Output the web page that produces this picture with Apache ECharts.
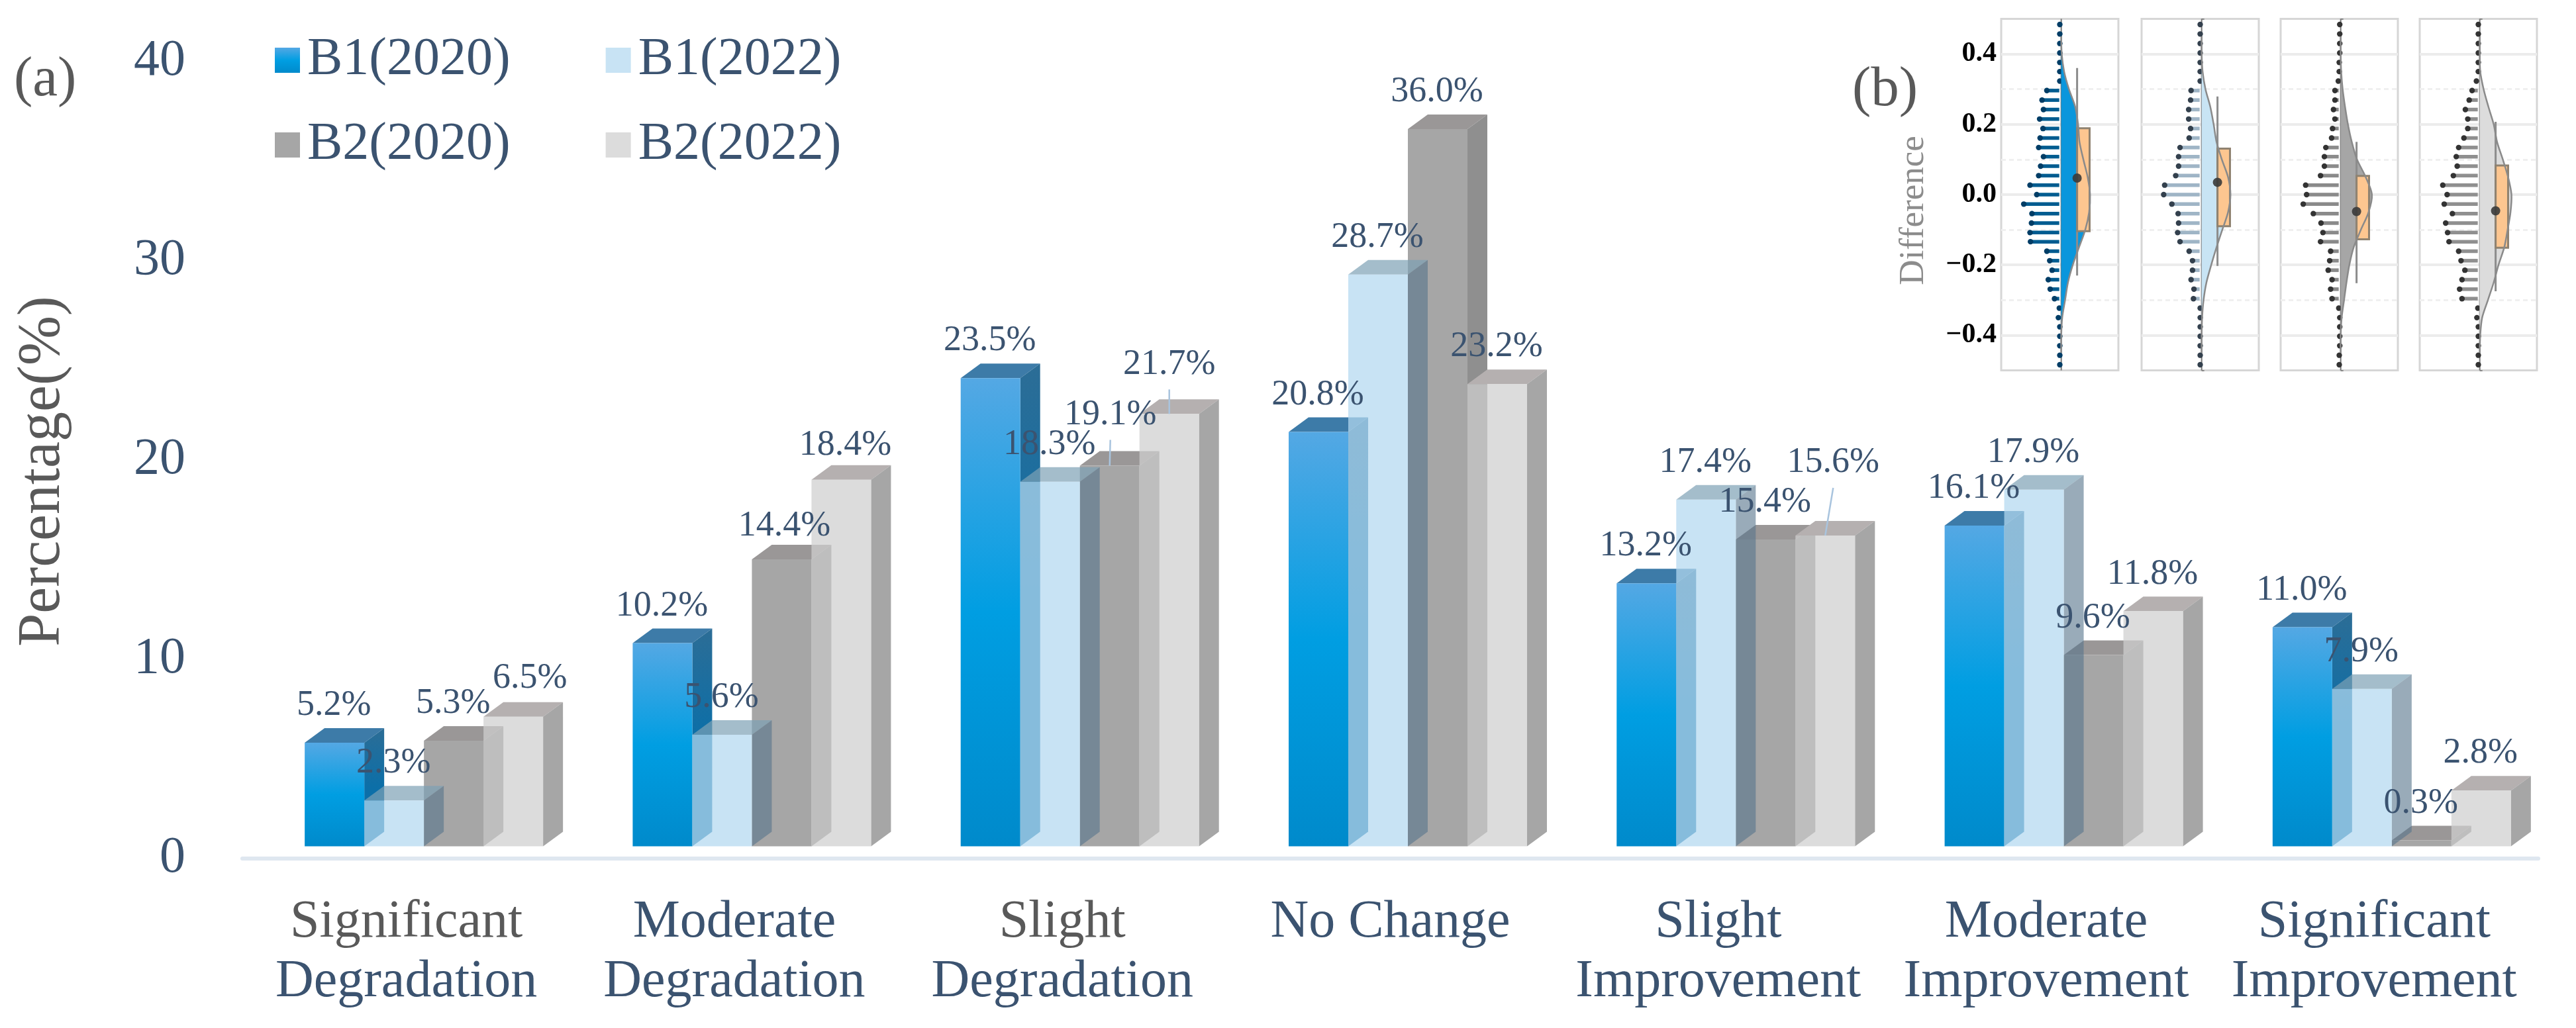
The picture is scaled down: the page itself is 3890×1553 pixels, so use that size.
<!DOCTYPE html>
<html>
<head>
<meta charset="utf-8">
<style>html,body{margin:0;padding:0;background:#fff}#c{width:3890px;height:1553px}</style>
<script src="https://cdn.jsdelivr.net/npm/echarts@6/dist/echarts.min.js"></script>
</head>
<body>
<div id="c"></div>
<script>
// ---------- Data: panel (a) ----------
const categories = ['Significant\nDegradation','Moderate\nDegradation','Slight\nDegradation','No Change','Slight\nImprovement','Moderate\nImprovement','Significant\nImprovement'];
const b1_2020 = [5.2,10.2,23.5,20.8,13.2,16.1,11.0];
const b1_2022 = [2.3,5.6,18.3,28.7,17.4,17.9,7.9];
const b2_2020 = [5.3,14.4,19.1,36.0,15.4,9.6,0.3];
const b2_2022 = [6.5,18.4,21.7,23.2,15.6,11.8,2.8];
const yTicks = [0,10,20,30,40];

// ---------- Data: panel (b) ----------
const panelNames = ['B1(2020)','B1(2022)','B2(2020)','B2(2022)'];
const binCenters = [0.484,0.457,0.430,0.403,0.376,0.350,0.323,0.296,0.269,0.242,0.215,0.188,0.161,0.134,0.108,0.081,0.054,0.027,0,-0.027,-0.054,-0.081,-0.108,-0.134,-0.161,-0.188,-0.215,-0.242,-0.269,-0.296,-0.323,-0.350,-0.376,-0.403,-0.430,-0.457,-0.484];
const histB1_2020 = [3,3,3,3,3,3,3,30,40,37,45,38,44,47,37,43,47,65,51,78,61,62,65,64,30,24,19,27,23,14,4,6,3,3,3,3,3];
const histB1_2022 = [3,3,3,3,3,3,3,22,23,27,27,23,26,45,48,48,54,77,79,62,49,48,50,45,26,19,19,22,16,17,3,3,3,3,3,3,3];
const histB2_2020 = [2,2,2,2,3,3,5,12,12,15,12,17,19,31,34,34,42,73,71,78,57,41,37,42,21,23,26,18,21,18,4,2,2,2,2,3,3];
const histB2_2022 = [3,3,3,3,3,3,7,16,22,30,25,25,33,44,49,47,55,77,68,74,57,71,67,64,44,39,31,37,42,37,4,6,3,3,3,3,3];
const violinLevels = [0.45,0.4,0.35,0.3,0.25,0.2,0.15,0.1,0.05,0,-0.05,-0.1,-0.15,-0.2,-0.25,-0.3,-0.35,-0.4,-0.45];
const violinB1_2020 = [0,1,6,16,29,35,38,46,55,60,58,50,37,24,14,8,2,0,0];
const violinB1_2022 = [0,0,2,8,18,25,31,42,55,60,55,43,31,20,10,4,1,0,0];
const violinB2_2020 = [0,0,1,4,9,15,23,34,52,65,58,42,27,18,12,7,2,0,0];
const violinB2_2022 = [0,0,1,8,18,29,36,48,59,66,64,58,51,39,29,17,5,1,0];
const boxQ3 = [0.189,0.131,0.053,0.083];
const boxQ1 = [-0.104,-0.090,-0.127,-0.151];
const whiskerHigh = [0.360,0.279,0.150,0.207];
const whiskerLow = [-0.230,-0.203,-0.252,-0.275];
const means = [0.047,0.035,-0.048,-0.046];

// ---------- Style and layout ----------
const SERIF = '"Liberation Serif","Times New Roman",serif';
const NAVY = '#3b5370', GRAY = '#595959';
const BAR_W = 90, DEPTH_X = 30, DEPTH_Y = 22, FLOOR_X = 26.5, FLOOR_Y = 18.5;
const grad = (stops) => new echarts.graphic.LinearGradient(0,0,0,1,stops.map((c,i)=>({offset:c[0],color:c[1]})));
const bar3d = [
  {name:'B1(2020)', vals:b1_2020, slot:0, front:grad([[0,'#54a8e4'],[0.5,'#009ee2'],[1,'#008acb']]), top:'#3d7ba8', side:grad([[0,'#2c6d96'],[0.5,'#0c6fa8'],[1,'#0c6fa8']]), frontOp:1, topOp:1, sideOp:1},
  {name:'B2(2020)', vals:b2_2020, slot:2, front:'#a6a6a6', top:'#9a9797', side:'#8f8f8f', frontOp:1, topOp:1, sideOp:1},
  {name:'B1(2022)', vals:b1_2022, slot:1, front:'#b4d9f0', top:'#7da1b5', side:'#58758c', frontOp:0.73, topOp:0.7, sideOp:0.61},
  {name:'B2(2022)', vals:b2_2022, slot:3, front:'#cfcfcf', top:'#b5b0b0', side:'#a6a6a6', frontOp:0.73, topOp:1, sideOp:1}
];
// Label nudges for the hand-placed labels: "group-slot": [dx, dy from the bar's front top centre]
const labelNudge = {'0-3':[25,-58],'1-2':[4,-50],'1-3':[6,-52],'2-2':[1,-77],'2-3':[0,-75],'4-3':[12,-110]};
const panelStyle = [
  {left:3022, fill:'#0a96dc', stem:'#005c90', dot:'#003d66', hist:histB1_2020, violin:violinB1_2020},
  {left:3234, fill:'#c8e4f4', stem:'#9fb5c6', dot:'#33404d', hist:histB1_2022, violin:violinB1_2022},
  {left:3444, fill:'#a6a6a6', stem:'#8a8a8a', dot:'#333333', hist:histB2_2020, violin:violinB2_2020},
  {left:3654, fill:'#dcdcdc', stem:'#8f8f8f', dot:'#333333', hist:histB2_2022, violin:violinB2_2022}
];
const BOX_L = 33, BOX_R = 59;

// ---------- Series builders ----------
function barSeries(b){
  return {
    type:'custom', name:b.name, xAxisIndex:0, yAxisIndex:0, silent:true,
    itemStyle:{color:b.front},
    data:b.vals.map((v,i)=>[i,v]),
    renderItem(params, api){
      const c = api.coord([api.value(0), 0]);
      const t = api.coord([api.value(0), api.value(1)]);
      const x0 = c[0] + FLOOR_X + (b.slot-2)*BAR_W, x1 = x0 + BAR_W;
      const yb = c[1] - FLOOR_Y, yt = t[1] - FLOOR_Y;
      return {type:'group', children:[
        {type:'polygon', shape:{points:[[x0,yt],[x1,yt],[x1+DEPTH_X,yt-DEPTH_Y],[x0+DEPTH_X,yt-DEPTH_Y]]}, style:{fill:b.top, opacity:b.topOp}},
        {type:'polygon', shape:{points:[[x1,yt],[x1+DEPTH_X,yt-DEPTH_Y],[x1+DEPTH_X,yb-DEPTH_Y],[x1,yb]]}, style:{fill:b.side, opacity:b.sideOp}},
        {type:'rect', shape:{x:x0,y:yt,width:BAR_W,height:yb-yt}, style:{fill:b.front, opacity:b.frontOp}}
      ]};
    }
  };
}
const labelRows = [];
bar3d.slice().sort((a,b)=>a.slot-b.slot).forEach(b=>b.vals.forEach((v,i)=>labelRows.push([i,v,b.slot])));
const labelSeries = {
  type:'custom', xAxisIndex:0, yAxisIndex:0, silent:true, z:10, data:labelRows,
  renderItem(params, api){
    const g = api.value(0), v = api.value(1), s = api.value(2);
    const c = api.coord([g, v]);
    const n = labelNudge[g+'-'+s] || [-1,-56];
    const cx = c[0] + FLOOR_X + (s-2)*BAR_W + BAR_W/2, top = c[1] - FLOOR_Y;
    const x = cx + n[0], y = top + n[1];
    const kids = [];
    if (n[1] < -70) kids.push({type:'line', shape:{x1:x,y1:y+38,x2:cx,y2:top}, style:{stroke:'#a9c4de', lineWidth:2.5}});
    kids.push({type:'text', style:{text:v.toFixed(1)+'%', x:x, y:y, textAlign:'center', textVerticalAlign:'middle', fontSize:54, fontFamily:SERIF, fill:NAVY}});
    return {type:'group', children:kids};
  }
};

function panelSeries(p, idx){
  const ax = {xAxisIndex:idx+1, yAxisIndex:idx+1, silent:true};
  const out = [];
  // baseline and major grid lines
  out.push({type:'line', ...ax, data:[[0,-0.5],[0,0.5]], symbol:'none', lineStyle:{color:'#777',width:2}, z:3,
    markLine:{silent:true, symbol:'none', label:{show:false}, lineStyle:{color:'#ececec',width:4,type:'solid'}, data:[-0.4,-0.2,0,0.2,0.4].map(v=>({yAxis:v})), z:1}});
  // stems
  out.push({type:'custom', ...ax, z:4, data:p.hist.map((h,i)=>[h,binCenters[i]]),
    renderItem(params, api){
      const a = api.coord([0, api.value(1)]), b = api.coord([-api.value(0), api.value(1)]);
      return {type:'group', children:[
        {type:'line', shape:{x1:a[0]-3,y1:a[1],x2:b[0],y2:b[1]}, style:{stroke:p.stem,lineWidth:5.5}},
        {type:'circle', shape:{cx:b[0],cy:b[1],r:4.2}, style:{fill:p.dot}}
      ]};
    }});
  const pts = p.violin.map((w,i)=>[w,violinLevels[i]]);
  // violin fill
  out.push({type:'custom', ...ax, z:5, data:pts,
    renderItem(params, api){
      if (params.dataIndex !== 0) return null;
      const poly = pts.map(q=>api.coord(q));
      return {type:'polygon', shape:{points:poly, smooth:0.3}, style:{fill:p.fill}};
    }});
  // whisker, box
  out.push({type:'custom', ...ax, z:6, data:[[idx]],
    renderItem(params, api){
      const i = api.value(0);
      const hi = api.coord([BOX_L, whiskerHigh[i]]), lo = api.coord([BOX_L, whiskerLow[i]]);
      const q3 = api.coord([BOX_L, boxQ3[i]]), q1 = api.coord([BOX_R, boxQ1[i]]);
      return {type:'group', children:[
        {type:'line', shape:{x1:hi[0],y1:hi[1],x2:lo[0],y2:lo[1]}, style:{stroke:'#8c8c8c',lineWidth:3}},
        {type:'rect', shape:{x:q3[0],y:q3[1],width:q1[0]-q3[0],height:q1[1]-q3[1]}, style:{fill:'#fdc690',stroke:'#8f8270',lineWidth:3}}
      ]};
    }});
  // violin outline over the box
  out.push({type:'custom', ...ax, z:7, data:pts,
    renderItem(params, api){
      if (params.dataIndex !== 0) return null;
      return {type:'polyline', shape:{points:pts.map(q=>api.coord(q)), smooth:0.3}, style:{stroke:'#8a8a8a',lineWidth:2.5,fill:null}};
    }});
  // mean dot
  out.push({type:'custom', ...ax, z:8, data:[[BOX_L,means[idx]]],
    renderItem(params, api){
      const m = api.coord([api.value(0), api.value(1)]);
      return {type:'circle', shape:{cx:m[0],cy:m[1],r:7}, style:{fill:'#3a3a3a',opacity:0.9}};
    }});
  return out;
}

// ---------- Axes ----------
const catRich = {g:{color:GRAY,fontSize:80,fontFamily:SERIF,lineHeight:90}, n:{color:NAVY,fontSize:80,fontFamily:SERIF,lineHeight:90}};
const grayFirstLine = [0,2];
const grids = [{left:366, top:93, width:3467, height:1204, containLabel:false}];
const xAxes = [{type:'category', gridIndex:0, data:categories,
  axisTick:{show:false}, axisLine:{lineStyle:{color:'#dfe7f0',width:6}},
  axisLabel:{margin:52, interval:0, formatter(val, i){
    const lines = val.split('\n');
    return lines.map((l,j)=>'{'+(j===0 && grayFirstLine.includes(i)?'g':'n')+'|'+l+'}').join('\n');
  }, rich:catRich}}];
const yAxes = [{type:'value', gridIndex:0, min:yTicks[0], max:yTicks[yTicks.length-1], interval:yTicks[1]-yTicks[0],
  axisLine:{show:false}, axisTick:{show:false}, splitLine:{show:false},
  axisLabel:{margin:86, color:NAVY, fontSize:78, fontFamily:SERIF}}];
panelStyle.forEach((p,i)=>{
  grids.push({left:p.left, top:28.5, width:177, height:531, show:true, borderColor:'#d6d6d6', borderWidth:3, backgroundColor:'#fff'});
  xAxes.push({type:'value', gridIndex:i+1, min:-125, max:119, show:false});
  yAxes.push({type:'value', gridIndex:i+1, min:-0.5, max:0.5, interval:0.1,
    axisLine:{show:false},
    axisTick:{show:true, inside:true, length:4, lineStyle:{color:'#8a8a8a',width:2}},
    splitLine:{show:true, showMinLine:false, showMaxLine:false, lineStyle:{color:'#f0f0f0',width:3,type:[7,5]}},
    axisLabel:{show:i===0, margin:7, color:'#000', fontSize:42, fontWeight:'bold', fontFamily:SERIF,
      showMinLabel:false, showMaxLabel:false,
      formatter(v){
        const t = Math.round(v*10);
        if (t%2!==0 || Math.abs(t)>=5) return '';
        return (t<0?'\u2212':'')+Math.abs(v).toFixed(1);
      }}});
});

const legendText = {color:NAVY, fontSize:80, fontFamily:SERIF, padding:[0,0,0,6]};
const legendEntry = (name)=>{
  const b = bar3d.find(s=>s.name===name);
  return {name, itemStyle:{color:b.front, opacity:b.frontOp}};
};

const option = {
  animation:false, backgroundColor:'#fff',
  grid:grids, xAxis:xAxes, yAxis:yAxes,
  legend:[
    {left:410, top:46, itemWidth:38, itemHeight:38, itemGap:144, icon:'rect', selectedMode:false, textStyle:legendText, data:['B1(2020)','B1(2022)'].map(legendEntry)},
    {left:410, top:174, itemWidth:38, itemHeight:38, itemGap:144, icon:'rect', selectedMode:false, textStyle:legendText, data:['B2(2020)','B2(2022)'].map(legendEntry)}
  ],
  graphic:[
    {type:'text', left:21, top:79, style:{text:'(a)', fontSize:85, fontFamily:SERIF, fill:GRAY}},
    {type:'text', x:65, y:712, rotation:Math.PI/2, style:{text:'Percentage(%)', fontSize:90, fontFamily:SERIF, fill:GRAY, textAlign:'center', textVerticalAlign:'middle'}},
    {type:'text', left:2797, top:94, style:{text:'(b)', fontSize:85, fontFamily:SERIF, fill:GRAY}},
    {type:'text', x:2890, y:318, rotation:Math.PI/2, style:{text:'Difference', fontSize:53, fontFamily:SERIF, fill:'#8c8c8c', textAlign:'center', textVerticalAlign:'middle'}}
  ],
  series:[...bar3d.map(barSeries), labelSeries, ...panelStyle.flatMap(panelSeries)]
};
const chart = echarts.init(document.getElementById('c'), null, {renderer:'canvas', width:3890, height:1553});
chart.setOption(option);
</script>
</body>
</html>
